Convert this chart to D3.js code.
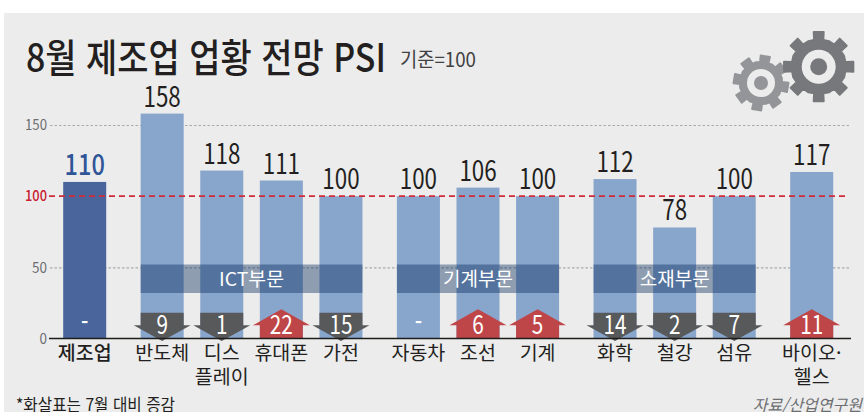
<!DOCTYPE html>
<html lang="ko"><head><meta charset="utf-8">
<style>
html,body{margin:0;padding:0;background:#fff;overflow:hidden}
svg{display:block}
text{font-family:"Noto Sans CJK KR","Noto Sans",sans-serif}
</style>
<script src="https://cdn.jsdelivr.net/npm/d3@7/dist/d3.min.js"></script>
</head><body>
<svg id="c" width="864" height="412"></svg>
<script>
const sectors = [["제조업"],["반도체"],["디스","플레이"],["휴대폰"],["가전"],["자동차"],["조선"],["기계"],["화학"],["철강"],["섬유"],["바이오·","헬스"]];
const psi = [110,158,118,111,100,100,106,100,112,78,100,117];
const change = [null,-9,-1,22,-15,null,6,5,-14,-2,-7,11];
const groupOf = [0,1,1,1,1,2,2,2,3,3,3,4];
const bandNames = [[1,"ICT부문"],[2,"기계부문"],[3,"소재부문"]];
const yTicks = [0,50,100,150];
const title = "8월 제조업 업황 전망 PSI";
const subtitle = "기준=100";
const footnote = "*화살표는 7월 대비 증감";
const source = "자료/산업연구원";

const svg = d3.select("#c");
const BG="#ececec", BAR="#88a5cc", MAIN="#49659c", DARK="#58595b", RED="#bf4648", INK="#231f20";
svg.append("rect").attr("x",4).attr("y",13).attr("width",860).attr("height",399).attr("fill",BG);

const GAP=0.3;
const slot = sectors.map((_,i)=> i + groupOf[i]*GAP);
const x = d3.scaleLinear().domain([0,d3.max(slot)]).range([84.7,811.7]);
const cx = i=>x(slot[i]);
const bw = 43;
const y = d3.scaleLinear().domain([0,150]).range([338.5,125]);
const L=50,R=851;

const ax = svg.append("g").attr("transform",`translate(${L},0)`)
  .call(d3.axisLeft(y).tickValues(yTicks).tickSize(0).tickPadding(3).tickFormat(d3.format("d")));
ax.select(".domain").remove();
ax.selectAll("text").style("font-family",'"Noto Sans CJK KR"').attr("font-size",15)
  .attr("textLength",d=>d===0?7.5:(d===50?15:22)).attr("lengthAdjust","spacingAndGlyphs")
  .attr("fill",d=>d===100?"#c8202f":"#6d6e71").attr("font-weight",d=>d===100?500:400);
ax.selectAll("line").attr("x2",R-L).attr("stroke-width",1.2)
  .attr("stroke-dasharray","2.5 2").attr("stroke",d=>(d===0||d===100)?"none":"#a7a9ac");

svg.append("g").selectAll("rect").data(psi).join("rect")
  .attr("x",(d,i)=>cx(i)-bw/2).attr("width",bw).attr("y",d=>y(d)).attr("height",d=>y(0)-y(d))
  .attr("fill",(d,i)=>i===0?MAIN:BAR);

bandNames.forEach(([g,name])=>{
  const idx = groupOf.map((v,i)=>v===g?i:-1).filter(i=>i>=0);
  const x0=cx(idx[0])-bw/2, x1=cx(idx[idx.length-1])+bw/2;
  svg.append("rect").attr("x",x0).attr("width",x1-x0).attr("y",264.5).attr("height",28.5)
    .attr("fill","rgb(4,40,91)").attr("fill-opacity",0.4);
  svg.append("text").attr("x",(x0+x1)/2).attr("y",285.5).attr("text-anchor","middle")
    .attr("fill","#fff").attr("font-size",19).attr("textLength",name.length===5?65:70).attr("lengthAdjust","spacingAndGlyphs").text(name);
});

svg.append("line").attr("x1",L-1).attr("x2",R-2).attr("y1",y(100)).attr("y2",y(100))
  .attr("stroke","#cf2b3a").attr("stroke-width",1.7).attr("stroke-dasharray","6 4");

const arrow = (c,up)=>{
  const b=bw/2, w=28.5, t=y(0);
  const p = up
    ? [[c-b,t],[c-b,325.3],[c-w,325.3],[c,309.3],[c+w,325.3],[c+b,325.3],[c+b,t]]
    : [[c-b,312.7],[c+b,312.7],[c+b,325.3],[c+w,325.3],[c,341],[c-w,325.3],[c-b,325.3]];
  return d3.line()(p)+"Z";
};
svg.append("g").selectAll("path").data(change.map((d,i)=>[d,i]).filter(d=>d[0]!==null)).join("path")
  .attr("d",([d,i])=>arrow(cx(i),d>0)).attr("fill",([d])=>d>0?RED:DARK);

svg.append("line").attr("x1",L-1).attr("x2",R).attr("y1",y(0)).attr("y2",y(0)).attr("stroke","#1d1d1b").attr("stroke-width",1.6);

svg.append("g").selectAll("text").data(change).join("text")
  .attr("x",(d,i)=>cx(i)).attr("y",d=>d===null?329.5:333.5).attr("text-anchor","middle")
  .attr("fill","#fff").attr("font-size",d=>d===null?20:26).attr("font-weight",d=>d===null?700:400)
  .attr("textLength",d=>d===null?null:String(Math.abs(d)).length*11.5)
  .attr("lengthAdjust","spacingAndGlyphs")
  .text(d=>d===null?"-":Math.abs(d));

svg.append("g").selectAll("text").data(psi).join("text")
  .attr("x",(d,i)=>cx(i)).attr("y",d=>y(d)-7).attr("text-anchor","middle")
  .attr("font-size",(d,i)=>i===0?28:28).attr("font-weight",(d,i)=>i===0?500:400)
  .attr("fill",(d,i)=>i===0?"#2f5597":INK)
  .attr("textLength",(d,i)=>String(d).length*(i===0?13.4:12.4)).attr("lengthAdjust","spacingAndGlyphs").text(d=>d);

const cat = svg.append("g").selectAll("text").data(sectors).join("text")
  .attr("text-anchor","middle").attr("font-size",19.5).attr("fill",INK)
  .attr("font-weight",(d,i)=>i===0?500:400);
cat.each(function(lines,i){
  const t=d3.select(this);
  lines.forEach((s,k)=>t.append("tspan").attr("x",cx(i)).attr("y",360+k*24).text(s));
});

svg.append("text").attr("x",26).attr("y",71.5).attr("font-size",39).attr("font-weight",500).attr("fill",INK)
  .attr("textLength",360).attr("lengthAdjust","spacingAndGlyphs").text(title);
svg.append("text").attr("x",400).attr("y",67).attr("font-size",20).attr("fill","#414042")
  .attr("textLength",76).attr("lengthAdjust","spacingAndGlyphs").text(subtitle);

svg.append("text").attr("x",16).attr("y",411).attr("font-size",17).attr("fill",INK)
  .attr("textLength",159).attr("lengthAdjust","spacingAndGlyphs").text(footnote);
svg.append("text").attr("x",862).attr("y",411).attr("text-anchor","end").attr("font-size",16)
  .attr("fill","#6d6e71").attr("font-style","italic").text(source);

function gear(cx0,cy0,rOut,rBody,rRing,rCore,rot,fill){
  const n=8, pts=[], tw=Math.min(0.17,5/rOut), s=2*Math.PI/n;
  d3.range(n).forEach(k=>{
    const a=rot+k*s;
    pts.push([a-tw,rOut],[a+tw,rOut],[a+tw*1.2,rBody],[a+s/2,rBody*1.02],[a+s-tw*1.2,rBody]);
  });
  const g=svg.append("g").attr("transform",`translate(${cx0},${cy0})`);
  g.append("path").attr("d",d3.lineRadial().curve(d3.curveLinearClosed)(pts))
    .attr("fill",fill).attr("stroke",fill).attr("stroke-width",2).attr("stroke-linejoin","round");
  g.append("circle").attr("r",rRing).attr("fill",BG);
  g.append("circle").attr("r",rCore).attr("fill",fill);
}
gear(761,83,27.5,21,14,7,0.16,"#939598");
gear(818.7,66.7,35,27,17,8.5,0,"#77787b");
</script>
</body></html>
